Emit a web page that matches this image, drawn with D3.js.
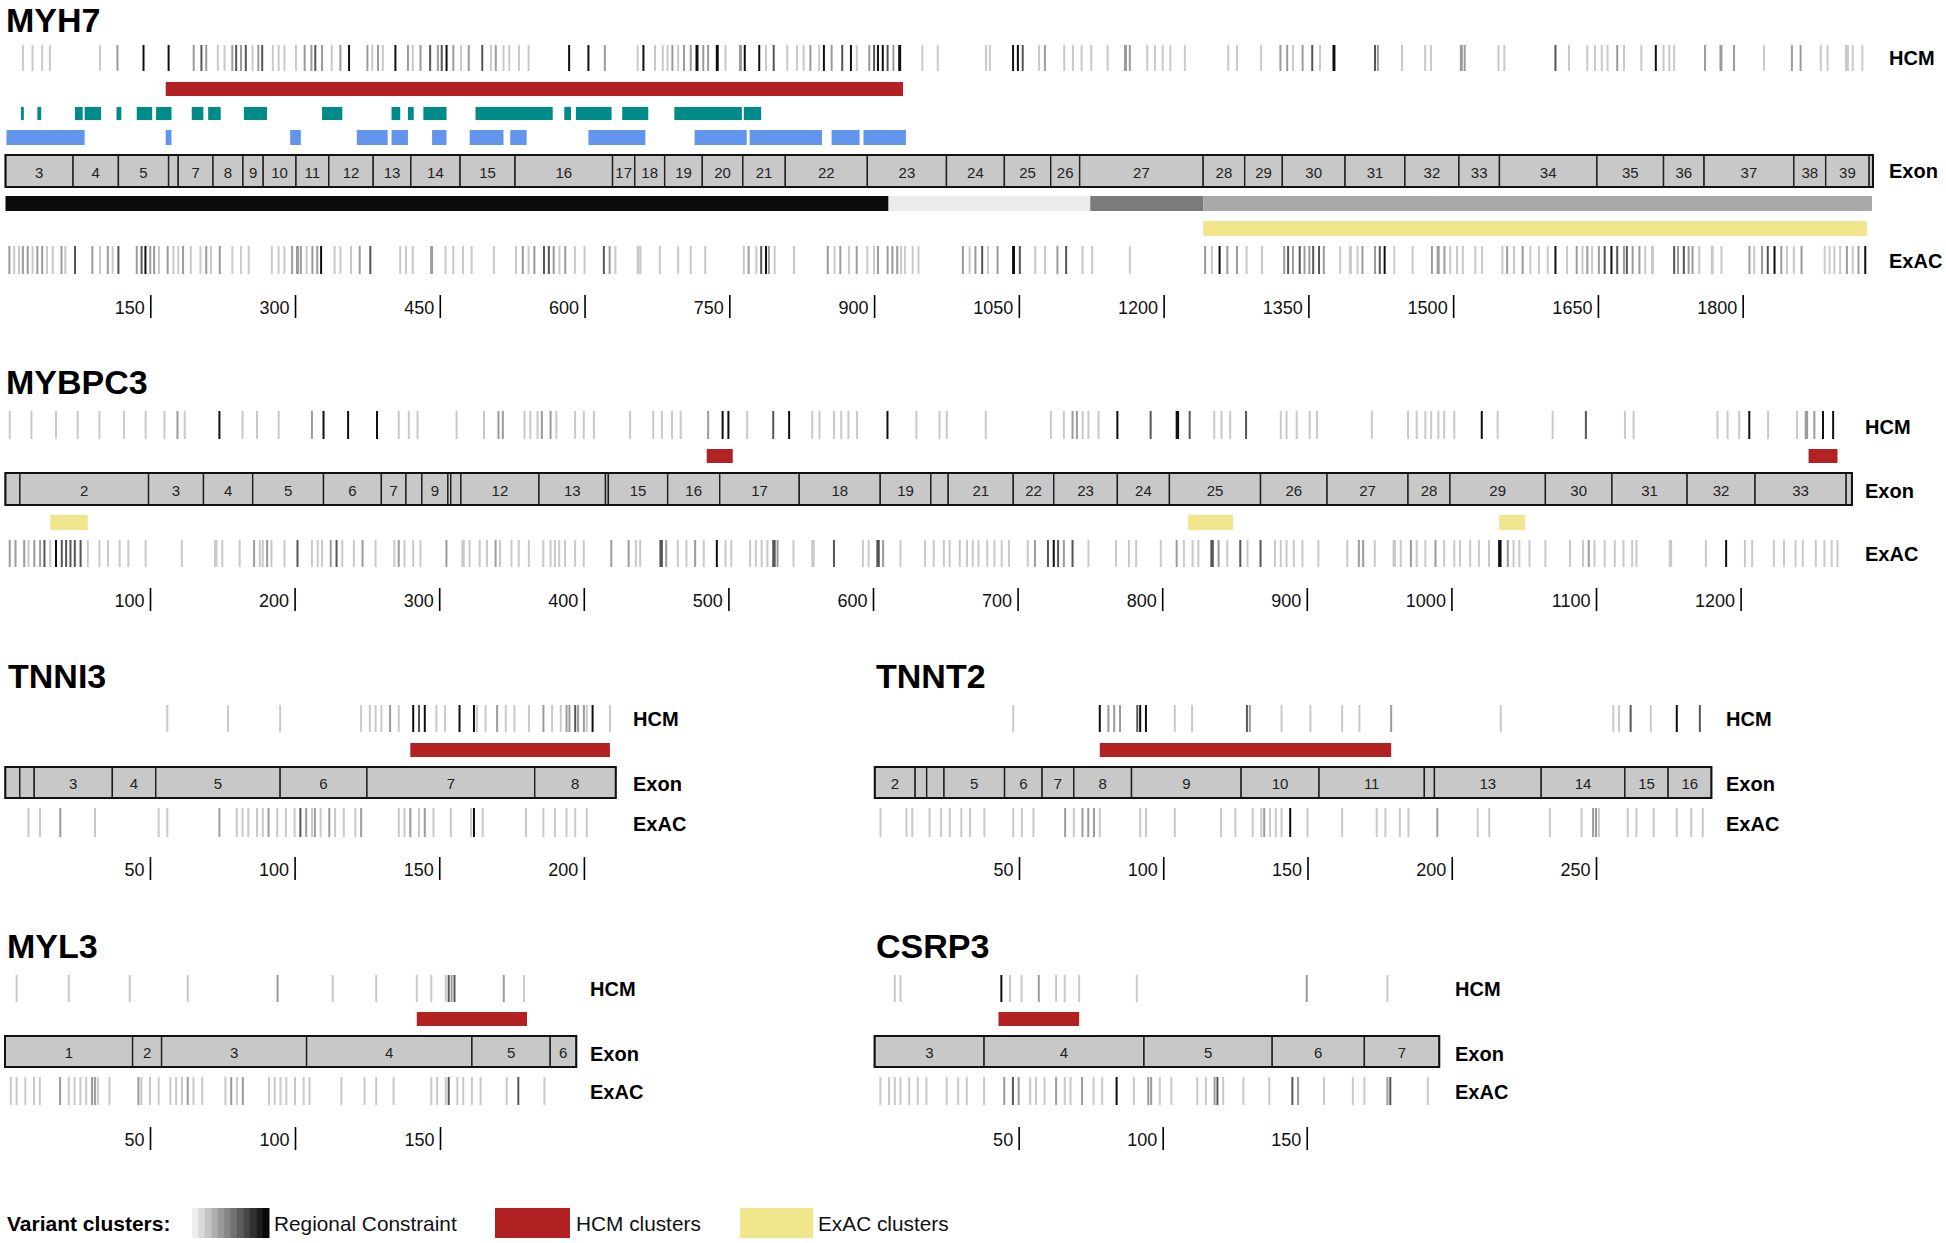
<!DOCTYPE html>
<html><head><meta charset="utf-8">
<script src="https://cdn.jsdelivr.net/npm/d3@7"></script>
<style>body{margin:0;background:#fff}svg{display:block}</style>
</head><body><svg id="c" width="1946" height="1243"></svg>
<script>
// ---------------- DATA ----------------
// MYH7
const myh7Exons = [0,70,117,169,179,215,246,267,301,335,381,420,471,528,629,652,683,722,764,808,893,975,1035,1083,1113,1241,1284,1323,1388,1450,1506,1548,1649,1718,1760,1853,1886,1931,1935];
const myh7ExonLabels = ["3","4","5","","7","8","9","10","11","12","13","14","15","16","17","18","19","20","21","22","23","24","25","26","27","28","29","30","31","32","33","34","35","36","37","38","39",""];
const myh7HcmClusters = [[166,930]];
const myh7ExacClusters = [[1241,1929]];
const myh7Teal = [[16,19],[33,37],[72,80],[82,99],[115,120],[136,152],[156,172],[193,205],[210,223],[247,271],[328,349],[400,409],[417,423],[433,457],[487,567],[579,586],[591,628],[639,666],[693,763],[765,783]];
const myh7Blue = [[1,82],[166,172],[295,306],[364,396],[400,417],[442,457],[481,516],[523,540],[604,663],[714,768],[771,846],[856,885],[889,933]];
const myh7Constraint = [[0,915,"#0b0b0b"],[915,1124,"#ececec"],[1124,1241,"#7b7b7b"],[1241,1934,"#a9a9a9"]];
const myh7Ticks = [150,300,450,600,750,900,1050,1200,1350,1500,1650,1800];
const myh7Hcm = [[18,1],[28,1],[38,1],[46,1],[98,1],[116,2],[143,4],[169,4],[195,2],[203,3],[208,2],[220,1],[227,1],[235,2],[239,3],[244,2],[249,3],[256,1],[262,2],[266,3],[277,1],[283,1],[289,1],[301,1],[310,2],[317,2],[321,3],[328,2],[338,1],[347,2],[356,4],[375,2],[380,1],[386,2],[391,1],[404,4],[417,2],[422,1],[430,2],[440,3],[448,2],[452,3],[457,4],[464,2],[472,1],[480,2],[494,3],[503,1],[508,2],[516,1],[522,1],[532,1],[542,1],[584,4],[604,4],[621,2],[655,1],[661,4],[673,1],[681,1],[686,1],[691,2],[697,1],[703,2],[710,2],[716,4],[717,4],[723,2],[728,2],[737,4],[738,4],[746,1],[761,2],[762,2],[766,4],[781,4],[788,1],[796,3],[810,1],[820,1],[827,1],[834,2],[843,1],[848,4],[856,2],[867,3],[876,4],[882,1],[895,2],[900,3],[904,4],[909,4],[914,3],[920,2],[926,4],[927,4],[950,1],[966,1],
[1016,1],[1020,1],[1044,4],[1049,4],[1054,3],[1071,1],[1077,2],[1097,1],[1106,1],[1115,1],[1125,1],[1142,1],[1160,2],[1161,2],[1165,2],[1183,1],[1191,1],[1199,1],[1207,1],[1222,1],[1267,1],[1276,1],[1301,1],[1321,2],[1328,2],[1334,1],[1344,2],[1354,3],[1362,1],[1376,4],[1377,4],[1419,3],[1422,2],[1447,1],[1471,1],[1477,1],[1508,2],[1509,2],[1512,2],[1547,1],[1553,1],[1606,3],[1620,1],[1639,1],[1647,1],[1654,1],[1660,1],[1670,2],[1677,1],[1695,1],[1710,4],[1718,1],[1724,1],[1729,1],[1761,2],[1777,2],[1778,2],[1791,2],[1822,1],[1851,2],[1860,2],[1881,1],[1888,1],[1907,1],[1909,1],[1914,1],[1924,1]];
const myh7Exac = [[4,2],[9,1],[14,1],[18,2],[23,2],[28,1],[33,2],[38,2],[43,1],[49,1],[58,2],[62,1],[72,3],[90,2],[98,1],[106,2],[111,1],[117,3],[136,2],[141,3],[145,4],[150,2],[154,2],[159,1],[168,2],[174,1],[179,1],[184,2],[192,1],[202,1],[208,2],[213,1],[222,2],[235,1],[244,1],[252,1],[276,1],[283,1],[289,1],[297,2],[302,2],[303,2],[306,2],[312,1],[318,2],[323,2],[327,4],[341,1],[347,1],[358,1],[367,2],[378,3],[409,1],[415,1],[422,1],[441,2],[442,2],[456,1],[464,1],[474,1],[483,1],[506,1],[529,1],[536,2],[542,1],[548,2],[558,3],[563,3],[568,2],[574,1],[580,2],[590,1],[600,1],[620,3],[626,2],[632,1],[655,1],[656,1],[658,1],[678,1],[697,1],[710,1],[725,1],[765,1],[770,2],[778,1],[783,3],[788,4],[791,2],[797,1],[817,1],[852,2],[859,1],[865,2],[874,1],[882,2],[893,1],[900,1],[904,2],[914,2],[919,2],[924,2],[928,1],[932,1],[940,1],[946,1],
[992,2],[999,1],[1005,2],[1012,3],[1018,1],[1028,2],[1044,4],[1045,4],[1051,3],[1067,1],[1077,1],[1090,2],[1099,3],[1116,1],[1126,1],[1165,1],[1243,2],[1250,1],[1258,4],[1266,2],[1276,2],[1286,1],[1302,1],[1325,2],[1329,3],[1334,2],[1341,3],[1346,2],[1351,2],[1355,3],[1361,3],[1366,2],[1383,1],[1393,1],[1394,1],[1401,1],[1406,2],[1419,2],[1424,3],[1429,4],[1439,1],[1458,1],[1478,2],[1484,2],[1485,2],[1491,2],[1497,1],[1504,1],[1510,1],[1523,1],[1530,1],[1551,1],[1556,2],[1563,1],[1572,2],[1580,1],[1589,1],[1598,1],[1606,4],[1618,1],[1628,2],[1634,1],[1639,2],[1644,1],[1651,2],[1657,3],[1664,4],[1670,3],[1677,2],[1680,3],[1686,2],[1693,2],[1699,1],[1706,1],[1707,1],[1729,3],[1733,2],[1739,3],[1744,2],[1748,2],[1755,1],[1768,1],[1769,1],[1778,1],[1807,2],[1812,1],[1820,2],[1826,3],[1833,4],[1840,2],[1846,1],[1853,1],[1861,2],[1885,1],[1890,1],[1895,1],[1901,1],[1908,2],[1914,1],[1920,2],[1927,4]];

// MYBPC3
const mybpc3Exons = [0,10,99,137,171,220,260,277,288,306,308,315,369,415,417,458,494,549,605,640,652,697,725,769,805,868,914,970,999,1065,1111,1163,1210,1273,1277];
const mybpc3ExonLabels = ["","2","3","4","5","6","7","","9","","","12","13","","15","16","17","18","19","","21","22","23","24","25","26","27","28","29","30","31","32","33",""];
const mybpc3HcmClusters = [[485,503],[1247,1267]];
const mybpc3ExacClusters = [[31,57],[818,849],[1033,1051]];
const mybpc3Ticks = [100,200,300,400,500,600,700,800,900,1000,1100,1200];
const mybpc3Hcm = [[3,1],[18,1],[35,1],[50,1],[65,1],[82,1],[97,1],[110,1],[119,2],[124,1],[148,4],[164,1],[174,1],[189,1],[212,2],[220,4],[237,4],[257,4],[272,1],[279,1],[285,1],[312,1],[331,1],[341,2],[344,2],[359,1],[363,1],[368,1],[371,2],[377,2],[381,1],[394,1],[400,1],[407,1],[432,1],[448,1],[454,1],[461,1],[467,1],[486,2],[496,4],[500,4],[513,1],[531,3],[542,4],[558,1],[563,1],[573,1],[578,1],[583,1],[589,1],[610,4],[630,1],[646,1],[651,1],
[678,1],[723,1],[732,1],[738,2],[741,2],[745,1],[749,1],[756,1],[769,4],[792,3],[810,4],[811,4],[819,3],[836,1],[841,1],[847,1],[858,3],[882,1],[886,1],[893,1],[902,1],[907,1],[945,1],[970,1],[976,1],[982,1],[986,1],[991,1],[995,1],[1002,1],[1021,4],[1032,1],[1070,1],[1093,3],[1120,1],[1126,1],[1184,1],[1191,1],[1199,1],[1206,4],[1219,1],[1239,1],[1245,2],[1246,2],[1251,2],[1257,4],[1264,4]];
const mybpc3Exac = [[3,2],[7,2],[13,2],[16,1],[20,2],[24,2],[27,3],[31,1],[35,4],[39,3],[42,3],[45,3],[48,3],[52,3],[57,1],[65,1],[71,1],[79,1],[85,1],[97,1],[122,1],[145,1],[146,1],[150,1],[162,1],[172,2],[176,1],[178,1],[181,2],[184,1],[193,1],[202,3],[212,1],[216,1],[219,1],[225,2],[229,3],[233,1],[241,1],[247,2],[256,1],[269,1],[272,2],[276,1],[282,1],[287,1],[305,2],[316,1],[317,1],[321,1],[328,1],[333,1],[339,2],[342,1],[350,1],[355,1],[362,1],[372,1],[377,1],[380,1],[383,1],[387,1],[394,1],[400,1],[419,2],[431,2],[436,1],[439,1],[453,3],[454,3],[457,2],[465,1],[471,1],[477,2],[483,1],[492,4],[498,1],[502,1],[515,1],[519,1],[523,1],[527,1],[531,3],[532,3],[534,2],[545,1],[558,1],[559,1],[573,3],[593,1],[597,1],[603,3],[604,3],[607,2],[619,1],[636,1],[642,1],[649,1],[653,1],[660,1],
[665,1],[669,1],[673,1],[679,1],[684,1],[689,1],[694,1],[707,1],[712,2],[721,3],[725,4],[728,3],[732,2],[738,3],[749,1],[768,1],[777,1],[782,1],[799,1],[810,2],[815,1],[821,1],[825,1],[834,3],[835,3],[839,2],[845,1],[854,3],[859,1],[868,3],[878,1],[882,1],[886,1],[891,1],[897,1],[908,1],[928,1],[936,2],[939,2],[947,1],[960,1],[961,1],[965,1],[972,2],[976,1],[982,1],[989,2],[995,1],[1002,1],[1006,1],[1013,1],[1019,1],[1026,1],[1033,4],[1034,4],[1039,2],[1043,1],[1047,1],[1054,1],[1065,1],[1082,1],[1091,1],[1095,2],[1099,1],[1106,1],[1113,1],[1119,1],[1125,1],[1128,1],[1151,1],[1152,1],[1176,1],[1190,4],[1203,1],[1208,1],[1223,1],[1230,1],[1238,1],[1243,1],[1252,1],[1258,1],[1263,1],[1267,1]];

// TNNI3
const tnni3Exons = [0,5,10,37,52,95,125,183,211];
const tnni3ExonLabels = ["","","3","4","5","6","7","8"];
const tnni3HcmClusters = [[140,209]];
const tnni3Ticks = [50,100,150,200];
const tnni3Hcm = [[56,1],[77,1],[95,1],[123,1],[126,1],[128,1],[130,1],[133,2],[136,1],[141,4],[143,3],[145,4],[149,1],[152,1],[157,4],[162,4],[163,1],[166,1],[170,2],[173,1],[176,1],[181,1],[186,2],[189,1],[192,1],[194,2],[195,2],[197,3],[198,2],[200,2],[201,1],[203,4],[209,1]];
const tnni3Exac = [[8,1],[12,1],[19,2],[31,1],[53,1],[56,1],[74,2],[80,1],[82,1],[84,1],[87,1],[89,1],[91,2],[94,1],[97,1],[100,1],[102,3],[104,2],[106,1],[107,2],[109,1],[112,2],[114,1],[117,1],[121,1],[123,2],[136,1],[138,1],[140,2],[143,1],[145,2],[148,1],[154,1],[161,1],[162,4],[165,1],[180,1],[186,1],[190,1],[194,1],[197,1],[201,1]];

// TNNT2
const tnnt2Exons = [0,14,18,24,45,58,69,89,127,154,190.5,194,231,260,275,290];
const tnnt2ExonLabels = ["2","","","5","6","7","8","9","10","11","","13","14","15","16"];
const tnnt2HcmClusters = [[78,179]];
const tnnt2Ticks = [50,100,150,200,250];
const tnnt2Hcm = [[48,1],[78,4],[81,2],[83,2],[85,2],[91,3],[92,4],[94,4],[104,1],[110,1],[129,3],[130,2],[141,1],[151,1],[162,1],[168,1],[179,2],[217,1],[256,1],[258,1],[262,3],[269,1],[278,4],[286,3]];
const tnnt2Exac = [[2,1],[11,1],[13,1],[19,1],[23,1],[26,1],[30,1],[33,1],[38,1],[48,1],[51,1],[55,1],[66,2],[69,1],[72,2],[74,2],[76,2],[78,1],[92,1],[94,1],[104,1],[120,1],[125,1],[131,1],[134,1],[135,2],[137,1],[139,1],[141,1],[144,4],[150,1],[162,1],[174,1],[177,1],[182,1],[185,1],[195,2],[209,1],[213,1],[234,1],[245,1],[249,2],[250,2],[251,1],[261,1],[264,1],[270,1],[278,1],[283,1],[287,1]];

// MYL3
const myl3Exons = [0,44,54,104,161,188,197];
const myl3ExonLabels = ["1","2","3","4","5","6"];
const myl3HcmClusters = [[142,180]];
const myl3Ticks = [50,100,150];
const myl3Hcm = [[4,1],[22,1],[43,1],[63,1],[94,2],[113,1],[128,1],[142,1],[147,1],[152,1],[153,3],[154,2],[155,3],[172,2],[179,1]];
const myl3Exac = [[2,1],[4,1],[7,1],[10,1],[12,1],[19,2],[22,1],[24,1],[26,1],[28,1],[30,2],[31,2],[32,1],[36,1],[46,2],[47,1],[50,1],[53,1],[57,1],[59,1],[61,1],[63,2],[65,1],[68,1],[76,1],[78,2],[80,1],[82,2],[91,1],[93,1],[95,1],[97,1],[100,1],[103,1],[105,1],[116,1],[124,1],[128,1],[134,1],[147,1],[149,1],[152,1],[153,3],[156,1],[158,1],[161,1],[164,1],[173,1],[177,3],[186,1]];

// CSRP3
const csrp3Exons = [0,38,93.5,138,170,196];
const csrp3ExonLabels = ["3","4","5","6","7"];
const csrp3HcmClusters = [[43,71]];
const csrp3Ticks = [50,100,150];
const csrp3Hcm = [[7,1],[9,1],[44,4],[47,1],[51,1],[57,2],[63,1],[66,1],[71,1],[91,1],[150,2],[178,1]];
const csrp3Exac = [[2,1],[5,1],[7,1],[9,1],[12,1],[15,1],[18,1],[25,1],[29,1],[32,1],[38,1],[45,2],[48,3],[50,2],[54,1],[56,1],[59,1],[63,2],[66,1],[68,1],[72,2],[76,1],[79,1],[84,4],[90,1],[95,2],[96,2],[99,1],[103,1],[112,1],[115,1],[118,2],[119,3],[121,1],[128,1],[137,1],[145,3],[147,2],[156,1],[166,1],[170,1],[178,2],[179,3],[192,1]];

// Legend
const legendItems = ["Regional Constraint","HCM clusters","ExAC clusters"];

// ---------------- STYLE / LAYOUT ----------------
const FONT = "'Liberation Sans', Arial, Helvetica, sans-serif";
const shade = {1:"#c9c9c9",2:"#9b9b9b",3:"#555555",4:"#0e0e0e"};
const RED = "#b22222", YELLOW = "#f0e68c", TEAL = "#008b8b", BLUE = "#6495ed", EXONFILL = "#c8c8c8";

const panels = [
  {name:"MYH7", len:1935, left:5.5, k:0.9651, titleX:6, titleY:32, labelX:1889,
   exons:myh7Exons, exonLabels:myh7ExonLabels, hcm:myh7Hcm, exac:myh7Exac, ticks:myh7Ticks,
   hcmCl:myh7HcmClusters, exacCl:myh7ExacClusters, teal:myh7Teal, blue:myh7Blue, constraint:myh7Constraint,
   rows:{hcm:[45,71], red:[82,96], teal:[107,120], blue:[130,145], exon:[155,187], constraint:[196,211], yellow:[221,236], exac:[246,274], axis:295},
   labelY:{hcm:58, exon:171, exac:261}},
  {name:"MYBPC3", len:1277, left:5.4, k:1.446, titleX:6, titleY:394, labelX:1865,
   exons:mybpc3Exons, exonLabels:mybpc3ExonLabels, hcm:mybpc3Hcm, exac:mybpc3Exac, ticks:mybpc3Ticks,
   hcmCl:mybpc3HcmClusters, exacCl:mybpc3ExacClusters,
   rows:{hcm:[411,439], red:[449,463], exon:[473,505], yellow:[515,530], exac:[540,567], axis:588},
   labelY:{hcm:427, exon:491, exac:554}},
  {name:"TNNI3", len:211, left:5.3, k:2.893, titleX:8, titleY:688, labelX:633,
   exons:tnni3Exons, exonLabels:tnni3ExonLabels, hcm:tnni3Hcm, exac:tnni3Exac, ticks:tnni3Ticks,
   hcmCl:tnni3HcmClusters,
   rows:{hcm:[705,732], red:[743,757], exon:[767,798], exac:[808,837], axis:857},
   labelY:{hcm:719, exon:784, exac:824}},
  {name:"TNNT2", len:290, left:874.75, k:2.885, titleX:876, titleY:688, labelX:1726,
   exons:tnnt2Exons, exonLabels:tnnt2ExonLabels, hcm:tnnt2Hcm, exac:tnnt2Exac, ticks:tnnt2Ticks,
   hcmCl:tnnt2HcmClusters,
   rows:{hcm:[705,732], red:[743,757], exon:[767,798], exac:[808,837], axis:857},
   labelY:{hcm:719, exon:784, exac:824}},
  {name:"MYL3", len:197, left:5, k:2.9, titleX:7, titleY:958, labelX:590,
   exons:myl3Exons, exonLabels:myl3ExonLabels, hcm:myl3Hcm, exac:myl3Exac, ticks:myl3Ticks,
   hcmCl:myl3HcmClusters,
   rows:{hcm:[975,1002], red:[1012,1026], exon:[1036,1067], exac:[1077,1105], axis:1127},
   labelY:{hcm:989, exon:1054, exac:1092}},
  {name:"CSRP3", len:196, left:874.6, k:2.881, titleX:876, titleY:958, labelX:1455,
   exons:csrp3Exons, exonLabels:csrp3ExonLabels, hcm:csrp3Hcm, exac:csrp3Exac, ticks:csrp3Ticks,
   hcmCl:csrp3HcmClusters,
   rows:{hcm:[975,1002], red:[1012,1026], exon:[1036,1067], exac:[1077,1105], axis:1127},
   labelY:{hcm:989, exon:1054, exac:1092}}
];

const svg = d3.select("#c");
svg.append("rect").attr("width",1946).attr("height",1243).attr("fill","#fff");

function drawPanel(p){
  const x = d3.scaleLinear().domain([0,p.len]).range([p.left, p.left + p.len*p.k]);
  const g = svg.append("g").attr("class","panel-"+p.name);
  const R = p.rows;

  g.append("text").attr("x",p.titleX).attr("y",p.titleY)
    .attr("font-family",FONT).attr("font-weight","bold").attr("font-size",34).attr("fill","#000")
    .text(p.name);

  function varTrack(data, yr){
    const sorted = data.slice().sort((a,b)=>a[1]-b[1]);
    g.append("g").selectAll("line").data(sorted).join("line")
      .attr("x1",d=>x(d[0])).attr("x2",d=>x(d[0]))
      .attr("y1",yr[0]).attr("y2",yr[1])
      .attr("stroke",d=>shade[d[1]]).attr("stroke-width",2);
  }
  function blocks(data, yr, color){
    g.append("g").selectAll("rect").data(data).join("rect")
      .attr("x",d=>x(d[0])).attr("width",d=>Math.max(1.5, x(d[1])-x(d[0])))
      .attr("y",yr[0]).attr("height",yr[1]-yr[0]).attr("fill",color);
  }

  varTrack(p.hcm, R.hcm);
  varTrack(p.exac, R.exac);
  if (p.hcmCl) blocks(p.hcmCl, R.red, RED);
  if (p.exacCl) blocks(p.exacCl, R.yellow, YELLOW);
  if (p.teal) blocks(p.teal, R.teal, TEAL);
  if (p.blue) blocks(p.blue, R.blue, BLUE);
  if (p.constraint){
    g.append("g").selectAll("rect").data(p.constraint).join("rect")
      .attr("x",d=>x(d[0])).attr("width",d=>x(d[1])-x(d[0]))
      .attr("y",R.constraint[0]).attr("height",R.constraint[1]-R.constraint[0])
      .attr("fill",d=>d[2]);
  }

  // exons
  const segs = d3.range(p.exons.length-1).map(i=>({a:p.exons[i], b:p.exons[i+1], label:p.exonLabels[i]}));
  const eg = g.append("g");
  eg.selectAll("rect").data(segs).join("rect")
    .attr("x",d=>x(d.a)).attr("width",d=>x(d.b)-x(d.a))
    .attr("y",R.exon[0]).attr("height",R.exon[1]-R.exon[0])
    .attr("fill",EXONFILL).attr("stroke","#1e1e1e").attr("stroke-width",1.4);
  eg.selectAll("text").data(segs.filter(d=>d.label)).join("text")
    .attr("x",d=>(x(d.a)+x(d.b))/2).attr("y",(R.exon[0]+R.exon[1])/2+1)
    .attr("text-anchor","middle").attr("dominant-baseline","central")
    .attr("font-family",FONT).attr("font-size",15).attr("fill","#222")
    .text(d=>d.label);
  eg.append("rect").attr("x",x(0)).attr("width",x(p.len)-x(0))
    .attr("y",R.exon[0]).attr("height",R.exon[1]-R.exon[0])
    .attr("fill","none").attr("stroke","#111").attr("stroke-width",2);

  // row labels
  const labs = [["HCM",p.labelY.hcm],["Exon",p.labelY.exon],["ExAC",p.labelY.exac]];
  g.append("g").selectAll("text").data(labs).join("text")
    .attr("x",p.labelX).attr("y",d=>d[1]).attr("dominant-baseline","central")
    .attr("font-family",FONT).attr("font-weight","bold").attr("font-size",20).attr("fill","#000")
    .text(d=>d[0]);

  // axis
  const axis = d3.axisBottom(x).tickValues(p.ticks).tickSize(23).tickSizeOuter(0).tickFormat(d3.format("d"));
  const ag = g.append("g").attr("transform",`translate(0,${R.axis})`).call(axis);
  ag.select(".domain").remove();
  ag.selectAll(".tick line").attr("stroke","#000").attr("stroke-width",1.6);
  ag.selectAll(".tick text").attr("x",-6).attr("y",19).attr("dy",0)
    .attr("text-anchor","end").attr("font-family",FONT).attr("font-size",18).attr("fill","#111");
}

panels.forEach(drawPanel);

// legend
const lg = svg.append("g").attr("font-family",FONT);
const LY = 1223;
lg.append("text").attr("x",7).attr("y",LY).attr("dominant-baseline","central")
  .attr("font-weight","bold").attr("font-size",21).text("Variant clusters:");
const grad = d3.range(12);
const gx = d3.scaleBand().domain(grad).range([192,269]);
const gc = d3.scaleLinear().domain([0,11]).range([238,8]);
lg.selectAll("rect.g").data(grad).join("rect").attr("class","g")
  .attr("x",d=>gx(d)).attr("width",gx.bandwidth()+0.5).attr("y",1208).attr("height",30)
  .attr("fill",d=>{const v=Math.round(gc(d));return `rgb(${v},${v},${v})`;});
const legendBoxes = [{x0:495,x1:570,color:RED},{x0:740,x1:813,color:YELLOW}];
lg.selectAll("rect.b").data(legendBoxes).join("rect").attr("class","b")
  .attr("x",d=>d.x0).attr("width",d=>d.x1-d.x0).attr("y",1208).attr("height",30).attr("fill",d=>d.color);
const textX = [274,576,818];
lg.selectAll("text.l").data(legendItems).join("text").attr("class","l")
  .attr("x",(d,i)=>textX[i]).attr("y",LY).attr("dominant-baseline","central")
  .attr("font-size",20.8).attr("fill","#111").text(d=>d);
</script></body></html>
